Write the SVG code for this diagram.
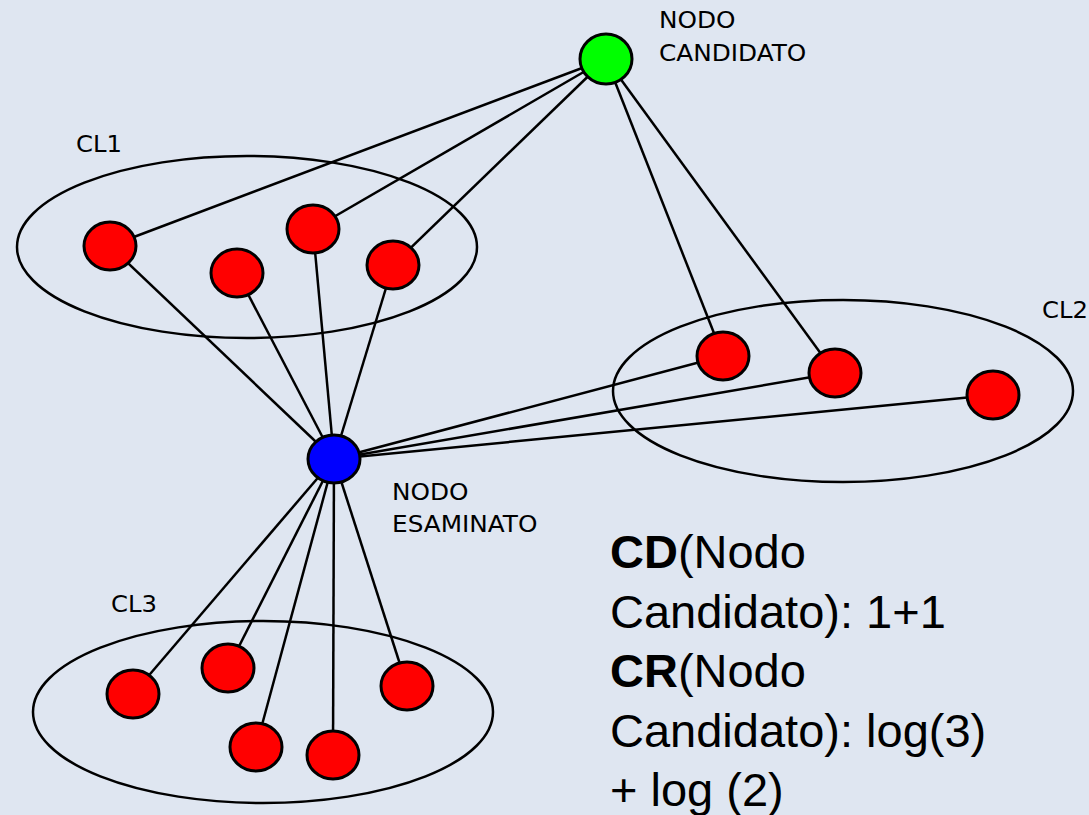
<svg xmlns="http://www.w3.org/2000/svg" width="1089" height="815" viewBox="0 0 1089 815">
<style>
.bg{fill:#dfe6f1}
.cl{fill:none;stroke:#000;stroke-width:2.5}
.e{stroke:#000;stroke-width:2.5}
.n{stroke:#000;stroke-width:3}
.red{fill:#ff0000}
.lbl{font-family:"DejaVu Sans",sans-serif;font-size:22.5px;fill:#000}
.big{font-family:"Liberation Sans",Arial,sans-serif;font-size:47px;fill:#000}
</style>
<rect class="bg" x="0" y="0" width="1089" height="815"/>
<g id="clusters">
<ellipse id="CL1" class="cl" cx="247" cy="247" rx="230" ry="91"/>
<ellipse id="CL2" class="cl" cx="843" cy="391" rx="230" ry="91"/>
<ellipse id="CL3" class="cl" cx="263" cy="712" rx="230" ry="91"/>
<text class="lbl" transform="translate(76,152) scale(1.08,1)">CL1</text>
<text class="lbl" transform="translate(1042,318) scale(1.08,1)">CL2</text>
<text class="lbl" transform="translate(111,612) scale(1.08,1)">CL3</text>
</g>
<g id="connectors">
<line class="e" x1="606" y1="59" x2="110" y2="246"/>
<line class="e" x1="606" y1="59" x2="313" y2="229"/>
<line class="e" x1="606" y1="59" x2="393" y2="265"/>
<line class="e" x1="606" y1="59" x2="723" y2="356"/>
<line class="e" x1="606" y1="59" x2="835" y2="373"/>
<line class="e" x1="334" y1="459" x2="110" y2="246"/>
<line class="e" x1="334" y1="459" x2="237" y2="273"/>
<line class="e" x1="334" y1="459" x2="313" y2="229"/>
<line class="e" x1="334" y1="459" x2="393" y2="265"/>
<line class="e" x1="334" y1="459" x2="723" y2="356"/>
<line class="e" x1="334" y1="459" x2="835" y2="373"/>
<line class="e" x1="334" y1="459" x2="993" y2="395"/>
<line class="e" x1="334" y1="459" x2="133" y2="694"/>
<line class="e" x1="334" y1="459" x2="228" y2="668"/>
<line class="e" x1="334" y1="459" x2="256" y2="747"/>
<line class="e" x1="334" y1="459" x2="333" y2="755"/>
<line class="e" x1="334" y1="459" x2="407" y2="686"/>
</g>
<g id="candidato"><ellipse class="n" cx="606" cy="59" rx="26" ry="25" fill="#00ff00"/>
<text class="lbl" transform="translate(659,28) scale(1.1,1)">NODO</text><text class="lbl" transform="translate(659,61) scale(1.1,1)">CANDIDATO</text></g>
<g id="esaminato"><ellipse class="n" cx="334" cy="459" rx="26" ry="24" fill="#0000ff"/>
<text class="lbl" transform="translate(392,500) scale(1.1,1)">NODO</text><text class="lbl" transform="translate(392,532) scale(1.1,1)">ESAMINATO</text></g>
<g id="n1"><ellipse class="n red" cx="110" cy="246" rx="26" ry="24"/></g>
<g id="n2"><ellipse class="n red" cx="237" cy="273" rx="26" ry="24"/></g>
<g id="n3"><ellipse class="n red" cx="313" cy="229" rx="26" ry="24"/></g>
<g id="n4"><ellipse class="n red" cx="393" cy="265" rx="26" ry="24"/></g>
<g id="n5"><ellipse class="n red" cx="723" cy="356" rx="26" ry="24"/></g>
<g id="n6"><ellipse class="n red" cx="835" cy="373" rx="26" ry="24"/></g>
<g id="n7"><ellipse class="n red" cx="993" cy="395" rx="26" ry="24"/></g>
<g id="n8"><ellipse class="n red" cx="133" cy="694" rx="26" ry="24"/></g>
<g id="n9"><ellipse class="n red" cx="228" cy="668" rx="26" ry="24"/></g>
<g id="n10"><ellipse class="n red" cx="256" cy="747" rx="26" ry="24"/></g>
<g id="n11"><ellipse class="n red" cx="333" cy="755" rx="26" ry="24"/></g>
<g id="n12"><ellipse class="n red" cx="407" cy="686" rx="26" ry="24"/></g>
<g id="formula">
<text class="big" x="610" y="568"><tspan font-weight="bold">CD</tspan>(Nodo</text>
<text class="big" x="610" y="628">Candidato): 1+1</text>
<text class="big" x="610" y="687"><tspan font-weight="bold">CR</tspan>(Nodo</text>
<text class="big" x="610" y="747">Candidato): log(3)</text>
<text class="big" x="610" y="806">+ log (2)</text>
</g>
</svg>
